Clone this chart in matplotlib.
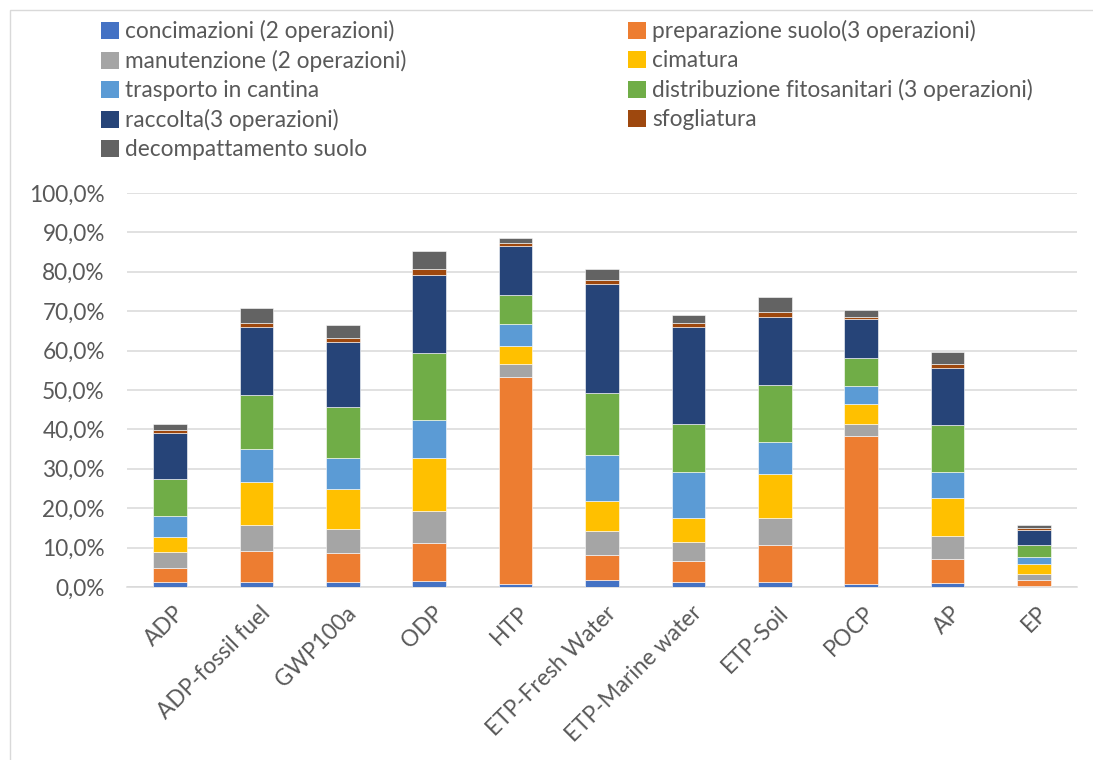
import matplotlib
matplotlib.use("Agg")
import matplotlib.pyplot as plt
from matplotlib.patches import Rectangle, Patch
from matplotlib.ticker import FixedLocator, FuncFormatter
import numpy as np

categories = ["ADP", "ADP-fossil fuel", "GWP100a", "ODP", "HTP", "ETP-Fresh Water",
              "ETP-Marine water", "ETP-Soil", "POCP", "AP", "EP"]

series_names = ["concimazioni (2 operazioni)", "preparazione suolo(3 operazioni)",
                "manutenzione (2 operazioni)", "cimatura", "trasporto in cantina",
                "distribuzione fitosanitari (3 operazioni)", "raccolta(3 operazioni)",
                "sfogliatura", "decompattamento suolo"]

concimazioni   = [1.3, 1.3, 1.3, 1.6, 0.8, 1.8, 1.3, 1.3, 0.7, 1.1, 0.25]
preparazione   = [3.6, 7.9, 7.3, 9.6, 52.6, 6.3, 5.4, 9.4, 37.5, 6.1, 1.55]
manutenzione   = [4.0, 6.6, 6.1, 8.1, 3.3, 6.0, 4.7, 6.8, 3.2, 5.8, 1.5]
cimatura       = [3.8, 10.8, 10.3, 13.5, 4.4, 7.8, 6.2, 11.2, 5.1, 9.5, 2.5]
trasporto      = [5.4, 8.3, 7.8, 9.6, 5.6, 11.5, 11.7, 8.2, 4.6, 6.8, 1.7]
distribuzione  = [9.3, 13.8, 13.0, 16.9, 7.5, 15.8, 12.0, 14.4, 7.1, 11.9, 3.2]
raccolta       = [11.8, 17.4, 16.5, 20.0, 12.4, 27.7, 24.6, 17.3, 9.9, 14.5, 3.8]
sfogliatura    = [0.6, 1.0, 1.0, 1.4, 0.7, 1.0, 1.0, 1.1, 0.5, 0.9, 0.4]
decompattamento = [1.6, 3.7, 3.3, 4.5, 1.4, 2.7, 2.1, 3.8, 1.7, 3.1, 0.8]

series_values = [concimazioni, preparazione, manutenzione, cimatura, trasporto,
                 distribuzione, raccolta, sfogliatura, decompattamento]
colors = ["#4472C4", "#ED7D31", "#A5A5A5", "#FFC000", "#5B9BD5",
          "#70AD47", "#264478", "#9E480E", "#636363"]

yticks = [0, 10, 20, 30, 40, 50, 60, 70, 80, 90, 100]

W, H = 1093, 760
fig = plt.figure(figsize=(W / 100, H / 100), dpi=100)
plt.rcParams['font.family'] = ['Lato', 'DejaVu Sans']
txt_color = "#595959"
fs = 16.3

# chart border (right and bottom edges fall outside the image)
fig.add_artist(Rectangle((10 / W, -0.05), (1100 - 10) / W, (H - 10) / H + 0.05,
                         transform=fig.transFigure, fill=False,
                         edgecolor="#D9D9D9", linewidth=1.0))

ax = fig.add_axes([127 / W, 1 - 587 / H, (1077 - 127) / W, (587 - 193) / H])
x = np.arange(len(categories))
bottom = np.zeros(len(categories))
handles = []
for name, vals, c in zip(series_names, series_values, colors):
    v = np.array(vals)
    ax.bar(x, v, width=0.39, bottom=bottom, color=c, edgecolor="white",
           linewidth=0.4, zorder=3, label=name)
    bottom += v
    handles.append(Patch(facecolor=c, edgecolor="none", label=name))

ax.set_xlim(-0.5, len(categories) - 0.5)
ax.set_ylim(0, 100)
ax.yaxis.set_major_locator(FixedLocator(yticks))
ax.yaxis.set_major_formatter(FuncFormatter(lambda v, p: f"{v:.1f}%".replace(".", ",")))
ax.grid(axis="y", color="#D9D9D9", linewidth=1.1, zorder=0)
ax.set_axisbelow(True)
for s in ["top", "right", "left"]:
    ax.spines[s].set_visible(False)
ax.spines["bottom"].set_color("#D9D9D9")
ax.spines["bottom"].set_linewidth(1.1)
ax.tick_params(axis="y", length=0, pad=16, labelsize=fs, labelcolor=txt_color)
ax.tick_params(axis="x", length=0, pad=11, labelsize=fs, labelcolor=txt_color)
ax.set_xticks(x)
ax.set_xticklabels(categories, rotation=45, ha="right", va="top", rotation_mode="anchor")
for lbl in ax.get_xticklabels():
    lbl.set_transform(lbl.get_transform() + matplotlib.transforms.ScaledTranslation(3 / 100, 0, fig.dpi_scale_trans))

# legends: two columns placed manually
left_idx = [0, 2, 4, 6, 8]
right_idx = [1, 3, 5, 7]
common = dict(frameon=False, fontsize=fs, labelcolor=txt_color, handlelength=0.78,
              handleheight=0.78, handletextpad=0.3, labelspacing=0.35, borderpad=0,
              borderaxespad=0)
leg1 = fig.legend([handles[i] for i in left_idx], [series_names[i] for i in left_idx],
                  loc="upper left", bbox_to_anchor=(101 / W, 1 - 20 / H), **common)
leg2 = fig.legend([handles[i] for i in right_idx], [series_names[i] for i in right_idx],
                  loc="upper left", bbox_to_anchor=(628 / W, 1 - 20 / H), **common)

fig.savefig("out.png", dpi=100)
